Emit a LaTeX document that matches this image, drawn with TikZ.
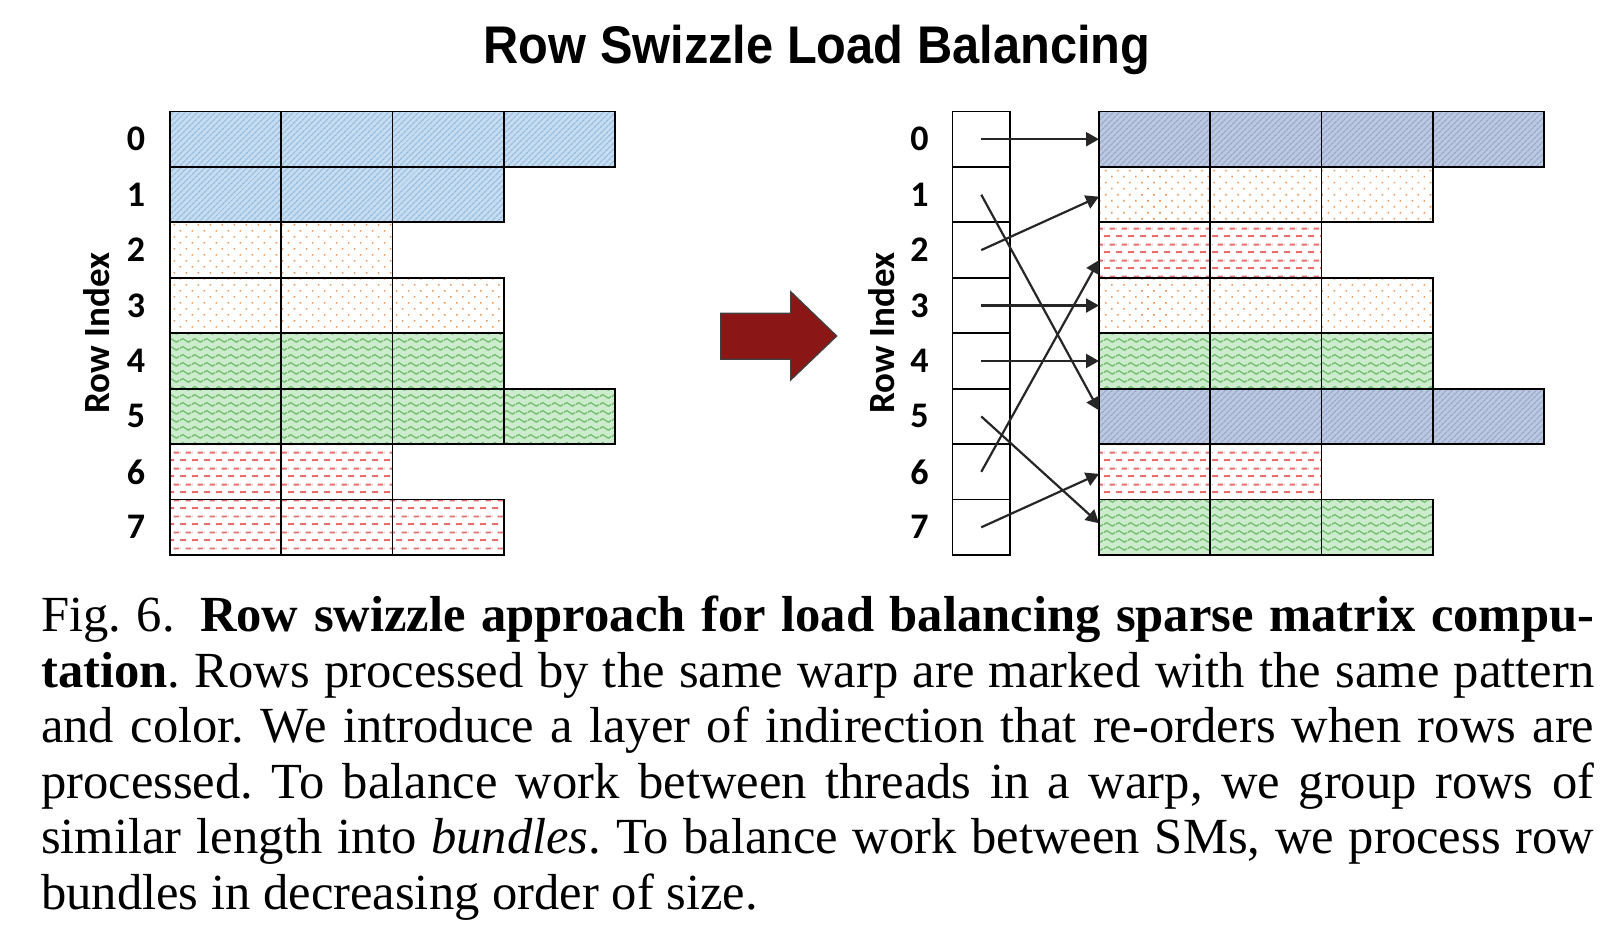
\documentclass[tikz,border=0pt]{standalone}
\usepackage{fontspec}
\setmainfont{Liberation Serif}
\newfontfamily\titlefont{Liberation Sans}
\newfontfamily\labelfont{Carlito}
\usetikzlibrary{positioning,arrows.meta,patterns.meta}

\definecolor{bluebg}{RGB}{198,220,240}
\definecolor{blueln}{RGB}{150,188,224}
\definecolor{graybg}{RGB}{188,200,223}
\definecolor{grayln}{RGB}{150,168,205}
\definecolor{orangedot}{RGB}{243,150,85}
\definecolor{greenbg}{RGB}{205,235,205}
\definecolor{greenln}{RGB}{110,190,110}
\definecolor{reddash}{RGB}{232,110,110}
\definecolor{arrowred}{RGB}{138,22,22}

\tikzdeclarepattern{
  name=wavy, type=uncolored,
  bounding box={(0pt,0pt) and (12pt,8pt)},
  tile size={(12pt,8pt)},
  code={\draw[line width=1.4pt] (0pt,4pt) sin (3pt,6pt) cos (6pt,4pt) sin (9pt,2pt) cos (12pt,4pt);}
}
\tikzdeclarepattern{
  name=dashrows, type=uncolored,
  bounding box={(0pt,0pt) and (12pt,16pt)},
  tile size={(12pt,16pt)},
  code={\draw[line width=2pt] (0pt,4pt) -- (6.5pt,4pt) (6pt,12pt) -- (12pt,12pt) (0pt,12pt) -- (0.5pt,12pt);}
}

\tikzset{
  cell/.style={draw=black, line width=1.8pt, minimum width=111.25pt, minimum height=55.44pt,
    anchor=north west, inner sep=0pt, outer sep=0pt},
  rowblue/.style={preaction={fill=bluebg}, preaction={pattern={Lines[angle=45,distance=4pt,line width=1.3pt]}, pattern color=blueln}},
  rowgray/.style={preaction={fill=graybg}, preaction={pattern={Lines[angle=45,distance=4pt,line width=1.3pt]}, pattern color=grayln}},
  roworange/.style={preaction={pattern={Dots[radius=1.1pt,distance=8.5pt,angle=45]}, pattern color=orangedot}},
  rowgreen/.style={preaction={fill=greenbg}, preaction={pattern=wavy, pattern color=greenln}},
  rowred/.style={preaction={pattern=dashrows, pattern color=reddash}},
  idx/.style={draw=black, line width=1.8pt, minimum width=57.5pt, minimum height=55.44pt,
    anchor=north west, inner sep=0pt, outer sep=0pt},
  rownum/.style={font=\labelfont\bfseries\fontsize{36}{40}\selectfont, inner sep=0pt},
  axislbl/.style={font=\labelfont\bfseries\fontsize{37}{40}\selectfont, inner sep=0pt, rotate=90},
  swz/.style={-{Triangle[length=13pt,width=14pt]}, line width=2.2pt, draw=black!85},
}

\begin{document}
\begin{tikzpicture}[x=1pt, y=-1pt]
\useasboundingbox (0,0) rectangle (1618,928);

% title
\node[font=\titlefont\bfseries\fontsize{53}{60}\selectfont, anchor=base, inner sep=0pt] (title) at (817,64)
  {\scalebox{0.92}[1]{Row Swizzle Load Balancing}};

% left matrix: original row order
\foreach \len/\sty [count=\r from 0] in {4/rowblue,3/rowblue,2/roworange,3/roworange,3/rowgreen,4/rowgreen,2/rowred,3/rowred}
  \foreach \c in {1,...,\len}
    \node[cell,\sty] (L\r-\c) at ({170+(\c-1)*111.25},{111.5+\r*55.44}) {};

% right matrix: swizzled rows
\foreach \len/\sty [count=\r from 0] in {4/rowgray,3/roworange,2/rowred,3/roworange,3/rowgreen,4/rowgray,2/rowred,3/rowgreen}
  \foreach \c in {1,...,\len}
    \node[cell,\sty] (R\r-\c) at ({1099+(\c-1)*111.25},{111.5+\r*55.44}) {};

% index column
\foreach \r in {0,...,7}
  \node[idx] (I\r) at (952.5,{111.5+\r*55.44}) {};

% row numbers
\foreach \r in {0,...,7} {
  \node[rownum] (nl\r) at (136,{111.5+(\r+0.5)*55.44}) {\r};
  \node[rownum] (nr\r) at (919.5,{111.5+(\r+0.5)*55.44}) {\r};
}
\node[axislbl] (axL) at (97,333) {Row Index};
\node[axislbl] (axR) at (882,333) {Row Index};

% big arrow between panels
\draw[fill=arrowred, draw=black!75, line width=1.3pt]
  (720.7,313.3) -- (790.7,313.3) -- (790.7,291.7) -- (836.7,336)
  -- (790.7,380) -- (790.7,359.3) -- (720.7,359.3) -- cycle;

% indirection arrows
\foreach \a/\b/\dy in {0/0/0,1/5/6,2/1/-2,3/3/0,4/4/0,5/7/4,6/2/-10,7/6/-2}
  \draw[swz] (I\a.center) -- ([yshift=\dy]R\b-1.west);

% caption
\node[anchor=north west, text width=1553pt, inner sep=0pt, align=justify,
  font=\fontsize{50.6}{55.47}\selectfont\frenchspacing] (cap) at (41,592.7)
  {\strut Fig.~6.\hspace{0.5em}\textbf{Row swizzle approach for load balancing sparse matrix compu-\linebreak tation}.
  Rows processed by the same warp are marked with the same pattern\linebreak
  and color. We introduce a layer of indirection that re-orders when rows are\linebreak
  processed. To balance work between threads in a warp, we group rows of\linebreak
  similar length into \emph{bundles}. To balance work between SMs, we process row\linebreak
  bundles in decreasing order of size.};
\end{tikzpicture}
\end{document}
